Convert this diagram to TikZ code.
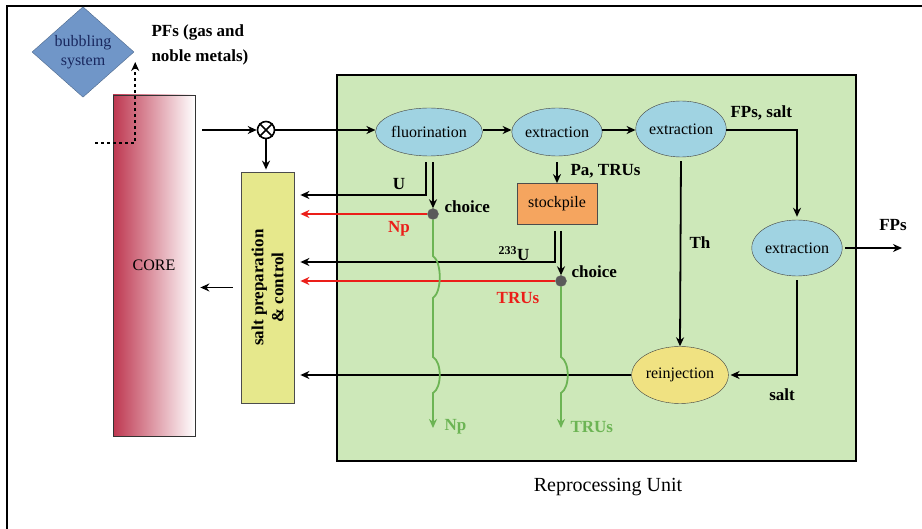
\documentclass[tikz,border=0pt]{standalone}
\usepackage{fontspec}
\setmainfont{Liberation Serif}
\usetikzlibrary{shapes.geometric,calc,arrows.meta}
\definecolor{unitgreen}{RGB}{205,232,185}
\definecolor{procblue}{RGB}{160,211,226}
\definecolor{bubbleblue}{RGB}{112,150,200}
\definecolor{bubbletext}{RGB}{25,40,95}
\definecolor{stockorange}{RGB}{245,165,95}
\definecolor{saltyellow}{RGB}{230,232,140}
\definecolor{reinjyellow}{RGB}{240,226,130}
\definecolor{corered}{RGB}{190,55,80}
\definecolor{flowred}{RGB}{235,30,25}
\definecolor{flowgreen}{RGB}{108,180,84}
\definecolor{dotgray}{RGB}{90,90,90}
\begin{document}
\begin{tikzpicture}[
  x=1pt, y=-1pt,
  >={Stealth[length=9pt,width=8pt]},
  every node/.style={font=\fontsize{16}{19}\selectfont},
  lab/.style={font=\fontsize{17}{20}\selectfont\bfseries},
  proc/.style={ellipse, draw=black!75, fill=procblue, inner sep=0pt,
    minimum width=84, minimum height=50},
  flow/.style={draw, line width=1.8pt},
  redflow/.style={draw=flowred, line width=1.8pt},
  greenflow/.style={draw=flowgreen, line width=1.8pt},
  choicedot/.style={circle, fill=dotgray, draw=black!60, minimum size=11, inner sep=0pt}
]
  \useasboundingbox (0,0) rectangle (922,529);
  % frame and reprocessing unit
  \draw[line width=2pt] (7,529) -- (7,6) -- (922,6);
  \draw[line width=1.6pt, fill=unitgreen] (337,75) rectangle (856,461);
  \node (unitlab) at (608,487) {\fontsize{20}{24}\selectfont Reprocessing Unit};

  % core side
  \node[diamond, draw=bubbleblue!70!black, fill=bubbleblue, inner sep=0pt,
    minimum width=102, minimum height=90, align=center, text=bubbletext]
    (bubble) at (83,52) {bubbling\\system};
  \node[lab, font=\fontsize{17}{25}\selectfont\bfseries, anchor=west, align=left]
    (pfs) at (148,45) {PFs (gas and\\noble metals)};
  \node[draw=black!80, line width=0.8pt, left color=corered, right color=white, inner sep=0pt,
    minimum width=82, minimum height=341] (core) at (154,265.5) {CORE};
  \node[draw=black!70, line width=0.8pt, fill=saltyellow, minimum width=53, minimum height=231]
    (salt) at (267.5,287.5) {};
  \node[lab, rotate=90, align=center] (saltlab) at (salt) {salt preparation\\\& control};
  \node[circle, draw, line width=1.6pt, minimum size=17, inner sep=0pt] (mix) at (266,130) {};
  \draw[line width=1.6pt] (mix.north west) -- (mix.south east) (mix.north east) -- (mix.south west);

  % process chain
  \node[proc, minimum width=88, minimum height=48] (fluor) at (429,132) {fluorination};
  \node[proc, minimum width=80, minimum height=48] (extrA) at (557,132) {extraction};
  \node[proc, minimum width=82, minimum height=56] (extrB) at (681,129) {extraction};
  \node[proc, minimum width=80, minimum height=56] (extrC) at (797,248) {extraction};
  \node[proc, fill=reinjyellow, minimum width=86, minimum height=57] (reinj) at (680,375) {reinjection};
  \node[draw=black!70, line width=0.8pt, fill=stockorange, minimum width=80, minimum height=41]
    (stock) at (557,204) {stockpile};
  \node[choicedot] (choiceA) at (433,214) {};
  \node[choicedot] (choiceB) at (561,281) {};
  \coordinate (gasin) at (95,143);
  \coordinate (fpsout) at (902,248);
  \coordinate (npout) at (433,428);
  \coordinate (trusout) at (561,428);

  % connectors
  \draw[flow, dashed, ->] (gasin) -| ($(bubble.east)+(1,10)$);
  \draw[flow, ->, shorten <=7pt] (core.east |- mix) -- (mix.west);
  \draw[flow, ->] (mix.east) -- (fluor.west |- mix);
  \draw[flow, ->, shorten >=2pt] (mix.south) -- (mix |- salt.north);
  \draw[flow, ->] (fluor.east |- mix) -- (extrA.west |- mix);
  \draw[flow, ->] (extrA.east |- mix) -- (extrB.west |- mix);
  \draw[flow, ->, shorten >=3pt] (extrB.east |- mix) -| (extrC.north);
  \draw[flow, ->, shorten <=3pt] (extrC.east) -- (fpsout);
  \draw[flow, ->, shorten <=4pt, shorten >=2pt] (extrC.south) |- (reinj.east);
  \draw[flow, ->, shorten <=4pt] (extrB.south) -- (reinj.north);
  \draw[flow, ->, shorten >=6pt] (reinj.west) -- (salt.east |- reinj.west);
  \draw[flow, ->, shorten <=8pt, shorten >=5pt] (salt.west) -- (core.east |- salt.west);
  \draw[flow, ->, shorten >=6pt] ($(fluor.south)+(-3,6)$) |- (salt.east |- 0,195);
  \draw[flow, ->] ($(fluor.south)+(4,6)$) -- (choiceA);
  \draw[redflow, ->, shorten >=6pt] (choiceA) -- (salt.east |- choiceA);
  \draw[flow, ->] ($(extrA.south)+(0,6)$) -- (stock.north);
  \draw[flow, ->, shorten >=6pt] ($(stock.south)+(-2,6)$) |- (salt.east |- 0,262);
  \draw[flow, ->] ($(stock.south)+(4,6)$) -- (choiceB);
  \draw[redflow, ->, shorten >=6pt] (choiceB) -- (salt.east |- choiceB);
  \draw[greenflow, ->] (choiceA) -- (433,256) .. controls (442,262) and (442,292) .. (433,298)
    -- (433,357) .. controls (442,362) and (442,388) .. (433,393) -- (npout);
  \draw[greenflow, ->] (choiceB) -- (561,357) .. controls (570,362) and (570,388) .. (561,393)
    -- (trusout);

  % labels
  \node[lab] (ulab) at (399,184) {U};
  \node[lab, anchor=west] (choiceAlab) at (441,207) {choice};
  \node[lab, text=flowred] (npred) at (399,229) {Np};
  \node[lab, anchor=west] (palab) at (567,171) {Pa, TRUs};
  \node[lab] (uthreelab) at (514,254) {\textsuperscript{233}U};
  \node[lab, anchor=west] (choiceBlab) at (568,272) {choice};
  \node[lab, text=flowred] (trured) at (518,298) {TRUs};
  \node[lab, text=flowgreen, anchor=west] (npgreen) at (441,427) {Np};
  \node[lab, text=flowgreen, anchor=west] (trugreen) at (567,427) {TRUs};
  \node[lab] (thlab) at (700,243) {Th};
  \node[lab, anchor=west] (fpsaltlab) at (727,113) {FPs, salt};
  \node[lab] (fpslab) at (893,225) {FPs};
  \node[lab] (saltout) at (782,395) {salt};
\end{tikzpicture}
\end{document}
